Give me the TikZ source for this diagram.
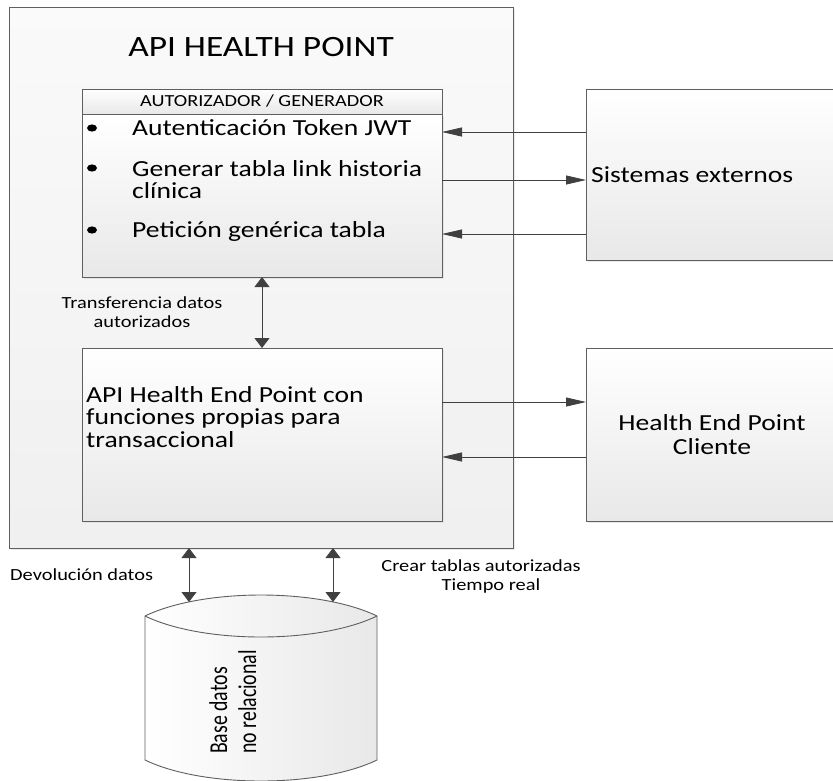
\documentclass[tikz,border=0pt]{standalone}
\usepackage{fontspec}
\setmainfont{Carlito}[FakeStretch=1.2]
\newfontfamily\dbfont{Carlito}
\usetikzlibrary{arrows.meta,shadows}

\definecolor{edge}{HTML}{5F5F5F}
\definecolor{arr}{HTML}{404040}

\tikzset{
  panel/.style={draw=edge, line width=0.9pt, top color=white, bottom color=black!9,
    inner sep=0pt, outer sep=0pt, anchor=north west},
  shadowed/.style={drop shadow={shadow xshift=2pt, shadow yshift=-2pt, fill=black!16}},
  lbl/.style={inner sep=0pt, text=black},
  big/.style={lbl, font=\fontsize{23}{23}\selectfont},
  small/.style={lbl, font=\fontsize{17}{17}\selectfont},
  harrow/.style={draw=arr, line width=0.8pt, -{Triangle[length=20pt,width=9pt]}},
  varrow/.style={draw=arr, line width=0.8pt,
    {Triangle[length=10pt,width=15pt]}-{Triangle[length=10pt,width=15pt]}},
}

\begin{document}
\begin{tikzpicture}[x=1pt,y=-1pt]
\useasboundingbox (0,0) rectangle (833,780);

% containers and boxes
\node[panel, shadowed, top color=black!2, bottom color=black!6,
      minimum width=504pt, minimum height=541pt] (outer) at (9,7) {};
\node[panel, shadowed, minimum width=360pt, minimum height=163pt] (auth) at (82,114) {};
\node[panel, minimum width=360pt, minimum height=25pt] (hdr) at (82,89) {};
\node[panel, shadowed, minimum width=360pt, minimum height=173pt] (api) at (82,348) {};
\node[panel, shadowed, minimum width=259pt, minimum height=171pt] (ext) at (586,89) {};
\node[panel, shadowed, minimum width=259pt, minimum height=173pt] (cli) at (586,348) {};

% database cylinder
\path[draw=edge, line width=0.9pt, left color=white, right color=black!9]
  (145,616) .. controls (203,588) and (319,588) .. (377,616)
  -- (377,760) .. controls (319,788) and (203,788) .. (145,760) -- cycle;
\draw[edge, line width=0.9pt]
  (145,616) .. controls (203,644) and (319,644) .. (377,616);
\coordinate (dbL) at (189,602);
\coordinate (dbR) at (333,602);

% connector levels
\coordinate (yA) at (0,132);
\coordinate (yB) at (0,180);
\coordinate (yC) at (0,234);
\coordinate (yD) at (0,402);
\coordinate (yE) at (0,457);

\draw[harrow] (ext.west |- yA) -- (auth.east |- yA);
\draw[harrow] (auth.east |- yB) -- (ext.west |- yB);
\draw[harrow] (ext.west |- yC) -- (auth.east |- yC);
\draw[harrow] (api.east |- yD) -- (cli.west |- yD);
\draw[harrow] (cli.west |- yE) -- (api.east |- yE);

\draw[varrow] (auth.south) -- (api.north);
\draw[varrow] (outer.south -| dbL) -- (dbL);
\draw[varrow] (outer.south -| dbR) -- (dbR);

% texts
\node[lbl, anchor=base, font=\fontsize{29.5}{30}\selectfont] (title) at (261,56) {API HEALTH POINT};
\node[lbl, anchor=base, font=\fontsize{16.9}{17}\selectfont] (hdrtxt) at (262,106.5) {AUTORIZADOR / GENERADOR};

\fill (92,128) ellipse [x radius=5pt, y radius=3.6pt];
\fill (92,168) ellipse [x radius=5pt, y radius=3.6pt];
\fill (92,230) ellipse [x radius=5pt, y radius=3.6pt];
\node[big, anchor=base west] (t1) at (132,135) {Autenticación Token JWT};
\node[big, anchor=base west] (t2) at (132,176) {Generar tabla link historia};
\node[big, anchor=base west] (t3) at (132,198) {clínica};
\node[big, anchor=base west] (t4) at (132,237) {Petición genérica tabla};

\node[big, anchor=base west] (exttxt) at (591,182) {Sistemas externos};

\node[big, anchor=base west] (a1) at (86,402) {API Health End Point con};
\node[big, anchor=base west] (a2) at (86,424.5) {funciones propias para};
\node[big, anchor=base west] (a3) at (86,447) {transaccional};

\node[big, anchor=base] (c1) at (712,430) {Health End Point};
\node[big, anchor=base] (c2) at (712,454) {Cliente};

\node[small, anchor=base] (tr1) at (142,308) {Transferencia datos};
\node[small, anchor=base] (tr2) at (142,327) {autorizados};

\node[small, anchor=base west] (dev) at (10,580) {Devolución datos};
\node[small, anchor=base] (cr1) at (481,571) {Crear tablas autorizadas};
\node[small, anchor=base] (cr2) at (491,590) {Tiempo real};

\node[lbl, rotate=90, anchor=base west, font=\dbfont\fontsize{19.8}{20}\selectfont] (db1) at (227,754) {\scalebox{1}[1.3]{Base datos}};
\node[lbl, rotate=90, anchor=base west, font=\dbfont\fontsize{19.8}{20}\selectfont] (db2) at (256,754) {\scalebox{1}[1.3]{no relacional}};
\end{tikzpicture}
\end{document}
